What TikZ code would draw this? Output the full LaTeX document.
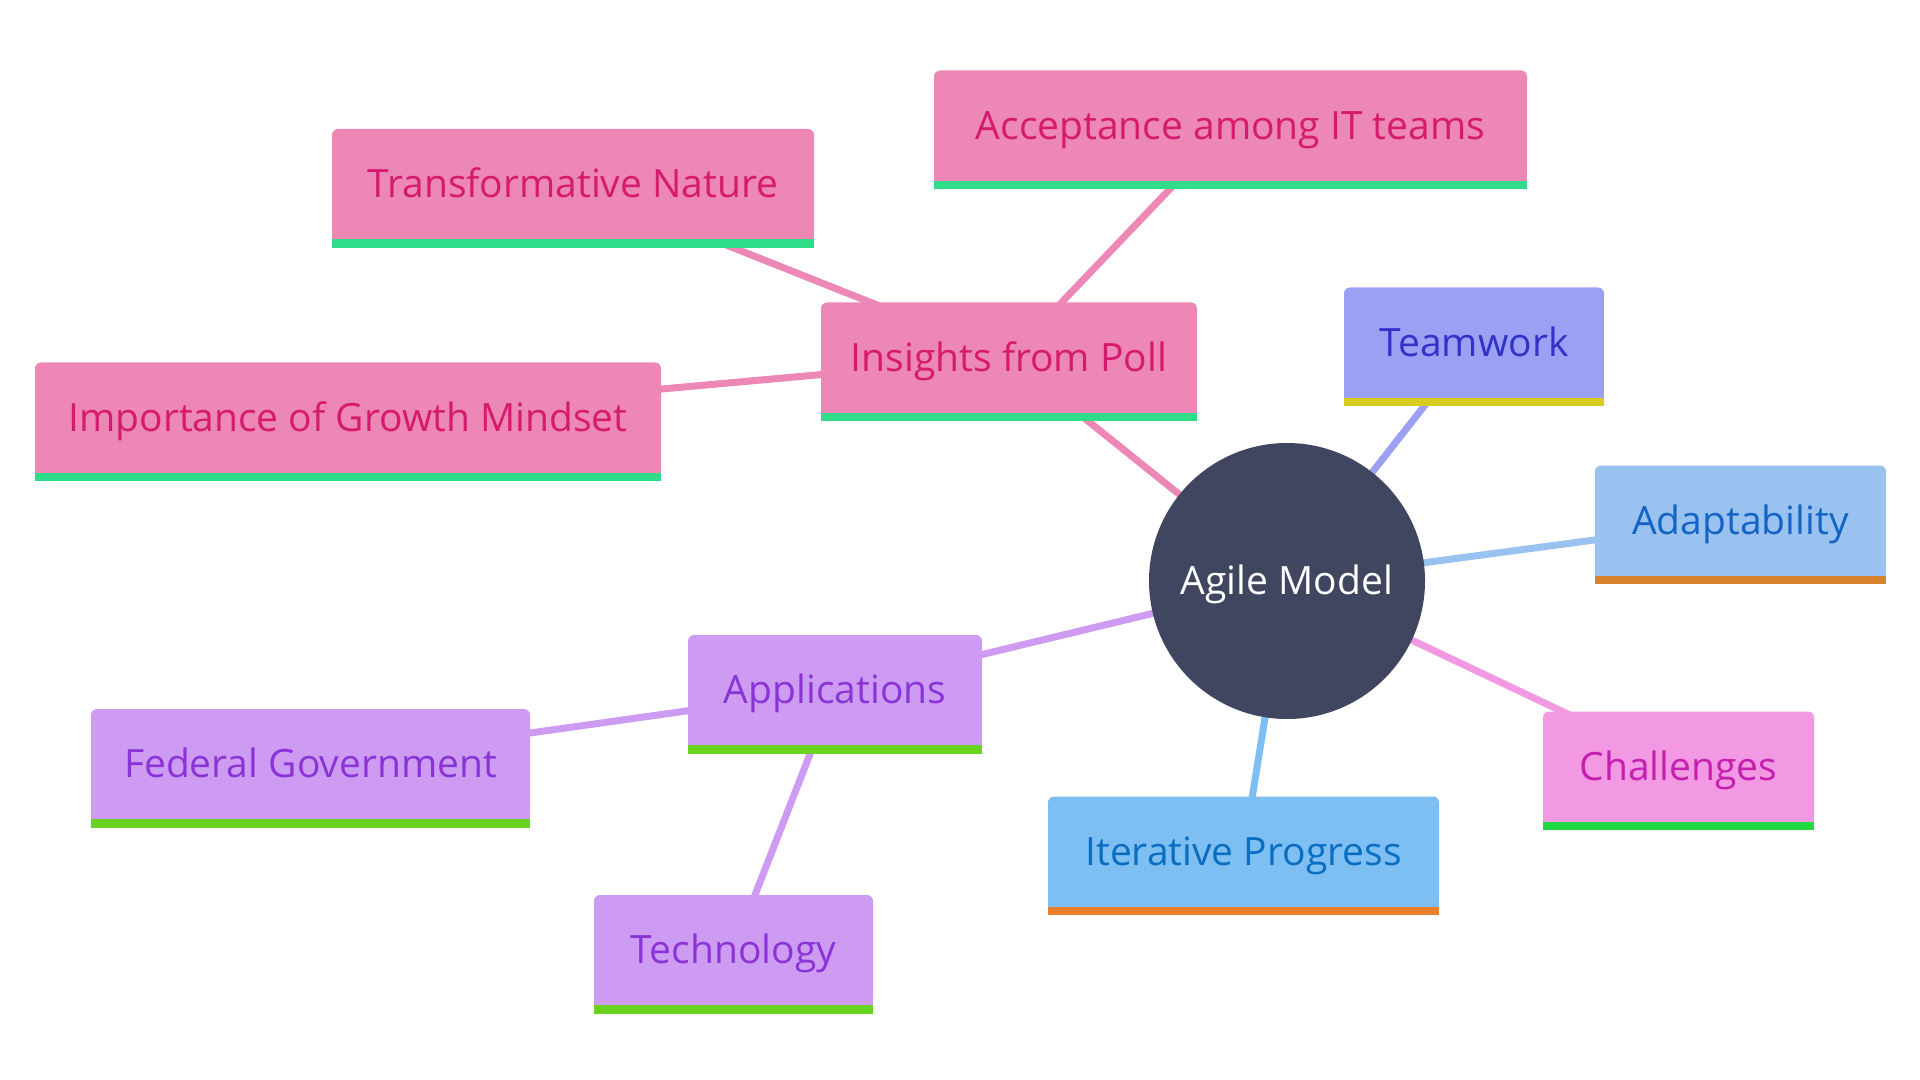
\documentclass[tikz,border=0pt]{standalone}
\usepackage{fontspec}
\setmainfont{Open Sans}
\usepackage{tikz}
\usetikzlibrary{backgrounds}
\definecolor{rootfill}{HTML}{414660}
\definecolor{pollfill}{HTML}{EC87B6}
\definecolor{polltext}{HTML}{D61A6E}
\definecolor{pollbar}{HTML}{2EDC8A}
\definecolor{teamfill}{HTML}{9CA0F2}
\definecolor{teamtext}{HTML}{3232C8}
\definecolor{teambar}{HTML}{D6CD1E}
\definecolor{adaptfill}{HTML}{9AC2F0}
\definecolor{adapttext}{HTML}{1364C4}
\definecolor{adaptbar}{HTML}{D7822A}
\definecolor{challfill}{HTML}{F398E3}
\definecolor{challtext}{HTML}{C41FAE}
\definecolor{challbar}{HTML}{1FD842}
\definecolor{iterfill}{HTML}{7DBFF2}
\definecolor{itertext}{HTML}{0A6DC2}
\definecolor{iterbar}{HTML}{EA7E2A}
\definecolor{appfill}{HTML}{CE9BF2}
\definecolor{apptext}{HTML}{8A34D8}
\definecolor{appbar}{HTML}{69D41F}
\tikzset{
  leaf/.style={rounded corners=3pt, align=center, inner sep=0pt, minimum height=55pt, text height=13.9pt, text depth=0pt, font=\fontsize{19.5}{23}\selectfont},
  rootnode/.style={circle, fill=rootfill, text=white, minimum size=138pt, inner sep=0pt, text height=13.9pt, text depth=0pt, font=\fontsize{19.5}{23}\selectfont},
  pollbox/.style={leaf, fill=pollfill, text=polltext},
  teambox/.style={leaf, fill=teamfill, text=teamtext},
  adaptbox/.style={leaf, fill=adaptfill, text=adapttext},
  challbox/.style={leaf, fill=challfill, text=challtext},
  iterbox/.style={leaf, fill=iterfill, text=itertext},
  appbox/.style={leaf, fill=appfill, text=apptext},
  link/.style={line width=3.5pt}
}
\begin{document}
\begin{tikzpicture}[x=0.5pt, y=-0.5pt]
\useasboundingbox (0,0) rectangle (1920,1080);
\node[rootnode] (root) at (1287,581) {Agile Model};
\node[pollbox, minimum width=188pt] (poll) at (1009,357.5) {Insights from Poll};
\node[pollbox, minimum width=296.5pt] (accept) at (1230.5,125.5) {Acceptance among IT teams};
\node[pollbox, minimum width=241pt] (transform) at (573,184) {Transformative Nature};
\node[pollbox, minimum width=313pt] (growth) at (348,417.5) {Importance of Growth Mindset};
\node[teambox, minimum width=130pt] (team) at (1474,342.5) {Teamwork};
\node[adaptbox, minimum width=145.5pt] (adapt) at (1740.5,520.5) {Adaptability};
\node[challbox, minimum width=135.5pt] (chall) at (1678.5,766.5) {Challenges};
\node[iterbox, minimum width=195.5pt] (iter) at (1243.5,851.5) {Iterative Progress};
\node[appbox, minimum width=147pt] (apps) at (835,690) {Applications};
\node[appbox, minimum width=219.5pt] (federal) at (310.5,764) {Federal Government};
\node[appbox, minimum width=139.5pt] (tech) at (733.5,950) {Technology};
\begin{scope}[on background layer]
\draw[link, pollfill] (root.center) -- (poll.center);
\draw[link, pollfill] (poll.center) -- (accept.center);
\draw[link, pollfill] (poll.center) -- (transform.center);
\draw[link, pollfill] (poll.center) -- (growth.center);
\draw[link, teamfill] (root.center) -- (team.center);
\draw[link, adaptfill] (root.center) -- (adapt.center);
\draw[link, challfill] (root.center) -- (chall.center);
\draw[link, iterfill] (root.center) -- (iter.center);
\draw[link, appfill] (root.center) -- (apps.center);
\draw[link, appfill] (apps.center) -- (federal.center);
\draw[link, appfill] (apps.center) -- (tech.center);
\end{scope}
% coloured strip under each box
\foreach \n/\f/\b in {poll/pollfill/pollbar, accept/pollfill/pollbar, transform/pollfill/pollbar, growth/pollfill/pollbar, team/teamfill/teambar, adapt/adaptfill/adaptbar, chall/challfill/challbar, iter/iterfill/iterbar, apps/appfill/appbar, federal/appfill/appbar, tech/appfill/appbar}{
  \fill[\f] ([yshift=3pt]\n.south west) rectangle (\n.south east);
  \fill[\b] (\n.south west) rectangle ([yshift=-4.25pt]\n.south east);
}
\end{tikzpicture}
\end{document}
